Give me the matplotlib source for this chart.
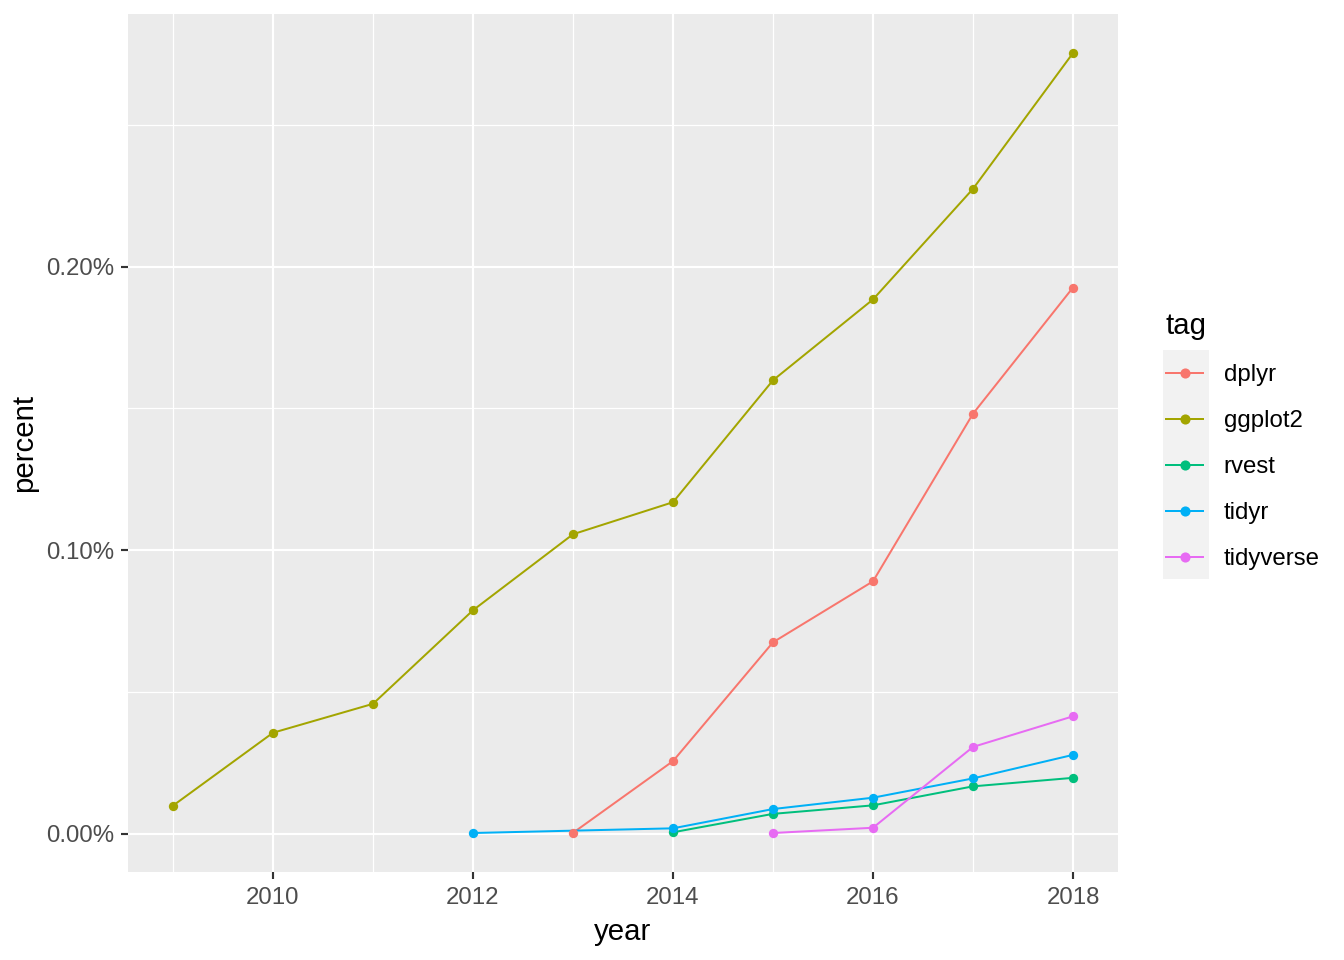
import matplotlib
matplotlib.use("Agg")
import matplotlib.pyplot as plt
from matplotlib.lines import Line2D
from matplotlib.patches import Rectangle
from matplotlib.ticker import FixedLocator, FuncFormatter

plt.rcParams['font.family'] = ['Liberation Sans', 'DejaVu Sans']

# ---- data (percent) ----
tags = ["dplyr", "ggplot2", "rvest", "tidyr", "tidyverse"]
colors = ["#F8766D", "#A3A500", "#00BF7D", "#00B0F6", "#E76BF3"]

dplyr_years = [2013, 2014, 2015, 2016, 2017, 2018]
dplyr_pct = [0.0003, 0.0256, 0.0675, 0.0890, 0.1481, 0.1926]

ggplot2_years = [2009, 2010, 2011, 2012, 2013, 2014, 2015, 2016, 2017, 2018]
ggplot2_pct = [0.0099, 0.0356, 0.0458, 0.0788, 0.1056, 0.1169, 0.1599, 0.1884, 0.2274, 0.2753]

rvest_years = [2014, 2015, 2016, 2017, 2018]
rvest_pct = [0.0005, 0.0070, 0.0100, 0.0167, 0.0197]

tidyr_years = [2012, 2014, 2015, 2016, 2017, 2018]
tidyr_pct = [0.00025, 0.0019, 0.0087, 0.0127, 0.0195, 0.0278]

tidyverse_years = [2015, 2016, 2017, 2018]
tidyverse_pct = [0.00025, 0.0021, 0.0306, 0.0414]

series = [
    (dplyr_years, dplyr_pct),
    (ggplot2_years, ggplot2_pct),
    (rvest_years, rvest_pct),
    (tidyr_years, tidyr_pct),
    (tidyverse_years, tidyverse_pct),
]

x_major = [2010, 2012, 2014, 2016, 2018]
x_minor = [2009, 2011, 2013, 2015, 2017]
y_major = [0.0, 0.1, 0.2]
y_minor = [0.05, 0.15, 0.25]

# ---- figure ----
W, H, DPI = 1344, 960, 192
fig = plt.figure(figsize=(W / DPI, H / DPI), dpi=DPI)
fig.patch.set_facecolor("white")
ax = fig.add_axes([128 / W, 1 - 872 / H, (1118 - 128) / W, (872 - 14) / H])
ax.set_facecolor("#EBEBEB")
for s in ax.spines.values():
    s.set_visible(False)

lw = 0.75
ms = 3.5
for (xs, ys), c in zip(series, colors):
    ax.plot(xs, ys, color=c, lw=lw, zorder=3, solid_capstyle="butt")
for (xs, ys), c in zip(series, colors):
    ax.plot(xs, ys, linestyle="none", marker="o", ms=ms, mew=0,
            color=c, zorder=4)

# limits with ggplot-like 5% expansion
allx = [x for xs, _ in series for x in xs]
ally = [y for _, ys in series for y in ys]
xr = max(allx) - min(allx)
yr = max(ally) - min(ally)
ax.set_xlim(min(allx) - 0.05 * xr, max(allx) + 0.05 * xr)
ax.set_ylim(min(ally) - 0.05 * yr, max(ally) + 0.05 * yr)

ax.xaxis.set_major_locator(FixedLocator(x_major))
ax.xaxis.set_minor_locator(FixedLocator(x_minor))
ax.yaxis.set_major_locator(FixedLocator(y_major))
ax.yaxis.set_minor_locator(FixedLocator(y_minor))
ax.yaxis.set_major_formatter(FuncFormatter(lambda v, p: f"{v:.2f}%"))
ax.xaxis.set_major_formatter(FuncFormatter(lambda v, p: f"{int(round(v))}"))

ax.grid(which="major", color="white", lw=0.8, zorder=1)
ax.grid(which="minor", color="white", lw=0.45, zorder=1)
ax.set_axisbelow(True)

ax.tick_params(which="major", length=2.75, width=0.8, color="#333333",
               labelcolor="#4D4D4D", labelsize=9.0, pad=2.4)
ax.tick_params(axis="x", which="major", pad=3.0)
ax.tick_params(which="minor", length=0)

ax.set_xlabel("year", fontsize=11, color="black", labelpad=3.3)
ax.set_ylabel("percent", fontsize=11, color="black", labelpad=2.9)

# ---- legend ----
handles = [Line2D([0], [0], color=c, lw=lw, marker="o", ms=3.8, mew=0)
           for c in colors]
leg = fig.legend(handles, tags, loc="upper left",
                 bbox_to_anchor=(1166 / W, 1 - 312 / H),
                 frameon=False, fontsize=9.0, title="tag", title_fontsize=11,
                 alignment="left", handlelength=1.56, handletextpad=0.85,
                 labelspacing=1.0, borderpad=0.0, borderaxespad=0.0)

fig.add_artist(Rectangle((1163 / W, 1 - 579.3 / H), 46 / W, 229.3 / H,
                         transform=fig.transFigure, facecolor="#F2F2F2",
                         edgecolor="none", zorder=0))

fig.savefig("out.png", dpi=DPI)
